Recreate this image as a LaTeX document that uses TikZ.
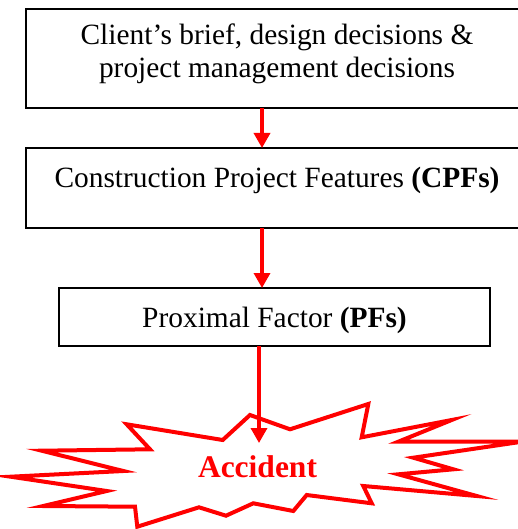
\documentclass[tikz,border=0pt]{standalone}
\usepackage{fontspec}
\setmainfont{Liberation Serif}
\usetikzlibrary{arrows.meta}
\tikzset{
  box/.style={draw=black, line width=2.2pt, anchor=north west, inner sep=0pt, outer sep=0pt},
  txt/.style={anchor=base, inner sep=0pt, font=\fontsize{29.4}{34}\selectfont},
  arr/.style={draw=red, line width=3.4pt, -{Triangle[length=15pt,width=16pt]}},
  burst/.style={draw=red, fill=white, line width=4pt, line join=miter, miter limit=20},
}
\begin{document}
\begin{tikzpicture}[x=1pt,y=-1pt]
\clip (0,0) rectangle (518,529);
\fill[white] (0,0) rectangle (518,529);
% boxes
\node[box, minimum width=502pt, minimum height=99pt] (b1) at (26,9) {};
\node[box, minimum width=502pt, minimum height=80pt] (b2) at (26,148) {};
\node[box, minimum width=431pt, minimum height=58pt] (b3) at (59,288) {};
% texts
\node[txt] (t1a) at (277,45) {Client’s brief, design decisions \&};
\node[txt] (t1b) at (277,78) {project management decisions};
\node[txt] (t2) at (277,188) {Construction Project Features \textbf{(CPFs)}};
\node[txt] (t3) at (274.5,327) {Proximal Factor \textbf{(PFs)}};
% starburst
\draw[burst] (250,415) -- (290,429.3) -- (368.3,404) -- (361.7,437.3) -- (451.7,420)
  -- (398.3,441.7) -- (522,441.7) -- (413.3,457.7) -- (453.3,469.3) -- (398.3,474.3)
  -- (476.7,496) -- (363.3,486) -- (371.7,503.3) -- (306.7,495) -- (293.3,511)
  -- (253.3,503.3) -- (226,515.7) -- (199,507.3) -- (137.3,526.7) -- (135,506.7)
  -- (43.3,506) -- (106.7,491) -- (10.7,476.7) -- (123.3,471) -- (41.7,450.7)
  -- (150,449.3) -- (126.7,424.3) -- (222.7,440) -- cycle;
\node[anchor=base, inner sep=0pt, text=red, font=\fontsize{31.5}{36}\selectfont\bfseries] (acc) at (257.5,477) {Accident};
% connectors
\coordinate (ax) at (262,0);
\coordinate (ax3) at (259,0);
\coordinate (tip) at (259,443);
\draw[arr] (b1.south -| ax) -- (b2.north -| ax);
\draw[arr] (b2.south -| ax) -- (b3.north -| ax);
\draw[arr] (b3.south -| ax3) -- (tip);
\end{tikzpicture}
\end{document}
